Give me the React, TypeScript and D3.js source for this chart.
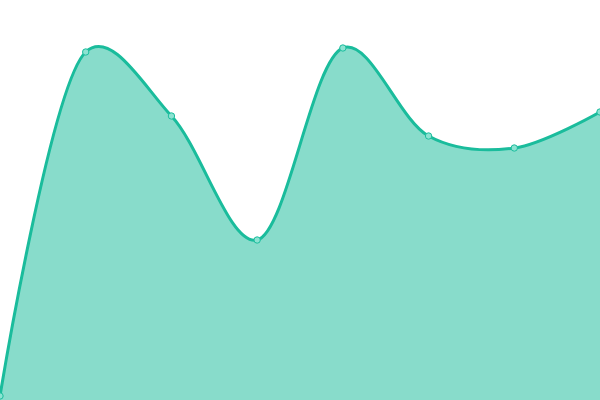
import React, { useEffect, useRef } from 'react'
import * as d3 from 'd3'

const categories = ['A', 'B', 'C', 'D', 'E', 'F', 'G', 'H']
const values = [1, 87, 71, 40, 88, 66, 63, 72]

const width = 600
const height = 400
const lineColor = '#1abc9c'

export default function App() {
  const ref = useRef<SVGSVGElement | null>(null)

  useEffect(() => {
    if (!ref.current) return
    const svg = d3.select(ref.current)
    svg.selectAll('*').remove()

    const x = d3
      .scalePoint<string>()
      .domain(categories)
      .range([0, width])
    const y = d3.scaleLinear().domain([0, 100]).range([height, 0])

    const data = categories.map((c, i) => ({ c, v: values[i] }))
    const curve = d3.curveCatmullRom.alpha(0.25)

    const area = d3
      .area<{ c: string; v: number }>()
      .x((d) => x(d.c)!)
      .y0(height)
      .y1((d) => y(d.v))
      .curve(curve)

    const line = d3
      .line<{ c: string; v: number }>()
      .x((d) => x(d.c)!)
      .y((d) => y(d.v))
      .curve(curve)

    svg
      .append('path')
      .datum(data)
      .attr('d', area)
      .attr('fill', lineColor)
      .attr('fill-opacity', 0.52)

    svg
      .append('path')
      .datum(data)
      .attr('d', line)
      .attr('fill', 'none')
      .attr('stroke', lineColor)
      .attr('stroke-width', 3)

    svg
      .append('g')
      .selectAll('circle')
      .data(data)
      .join('circle')
      .attr('cx', (d) => x(d.c)!)
      .attr('cy', (d) => y(d.v))
      .attr('r', 3.2)
      .attr('fill', '#8ce3d2')
      .attr('stroke', lineColor)
      .attr('stroke-width', 1)

    return () => {
      svg.selectAll('*').remove()
    }
  }, [])

  return (
    <svg
      ref={ref}
      width={width}
      height={height}
      style={{ position: 'fixed', left: 0, top: 0, display: 'block' }}
    />
  )
}
